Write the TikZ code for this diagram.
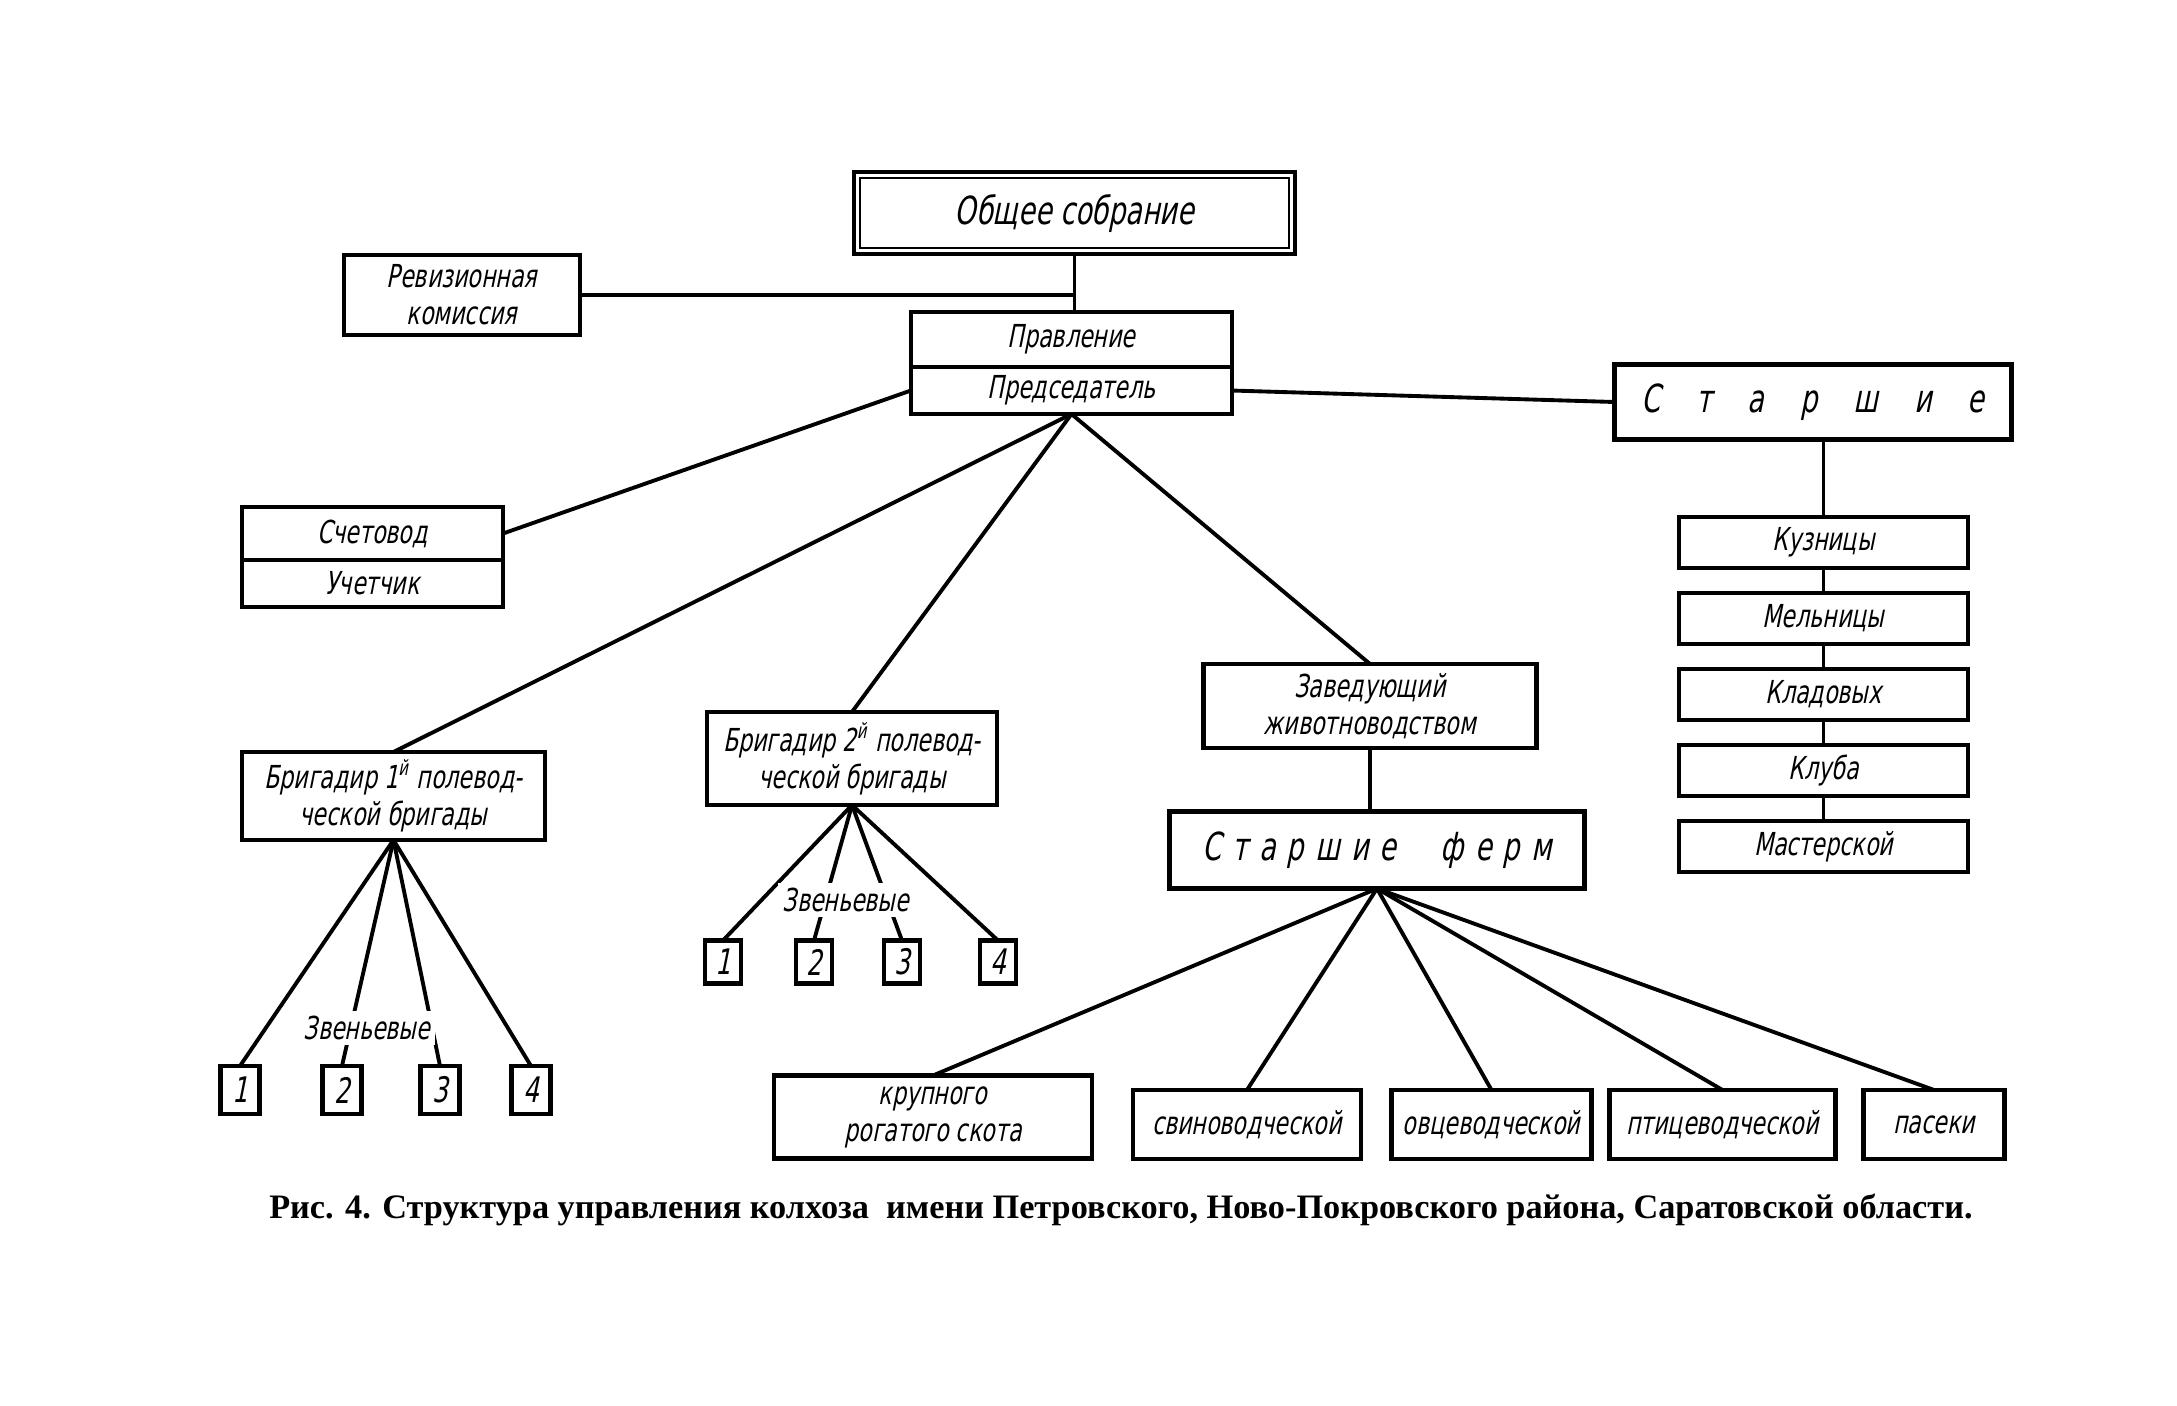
\documentclass[tikz,border=0pt]{standalone}
\usepackage{fontspec}
\setmainfont{Liberation Serif}
\newfontfamily\boxfont[FakeStretch=0.70,FakeSlant=0.2]{DejaVu Sans}
\usetikzlibrary{positioning}

\begin{document}
\begin{tikzpicture}[
    x=0.01cm, y=-0.01cm,
    unit/.style={rectangle, draw, line width=1.3pt, inner sep=1pt, outer sep=0pt,
                 align=center, font=\boxfont\fontsize{9}{10.5}\selectfont},
    big/.style={unit, font=\boxfont\fontsize{11}{13}\selectfont},
    numbox/.style={unit, font=\boxfont\fontsize{10}{12}\selectfont},
    wh/.style 2 args={minimum width=#1cm, minimum height=#2cm},
    link/.style={line width=1.1pt},
    lbl/.style={fill=white, inner sep=1.5pt, font=\boxfont\fontsize{9}{10}\selectfont},
]
\useasboundingbox (0,0) rectangle (2177,1406);

% board and management
\node[big, wh={4.41}{0.82}] (obsh) at (1074.5,213) {Общее собрание};
\draw[line width=0.5pt] ([xshift=0.06cm,yshift=-0.06cm]obsh.north west)
    rectangle ([xshift=-0.06cm,yshift=0.06cm]obsh.south east);
\node[unit, wh={2.36}{0.80}] (rev) at (462,295) {Ревизионная\\комиссия};
\node[unit, wh={3.21}{0.55}] (prav) at (1071.5,339.5) {Правление};
\node[unit, wh={3.21}{0.47}, below=0pt of prav] (pred) {Председатель};
\node[unit, wh={2.61}{0.53}] (schet) at (372.5,533.5) {Счетовод};
\node[unit, wh={2.61}{0.47}, below=0pt of schet] (uchet) {Учетчик};

% seniors column on the right
\node[big, wh={3.97}{0.75}] (star) at (1813,402) {\makebox[3.43cm][s]{С т а р ш и е}};
\node[unit, wh={2.89}{0.51}] (kuz) at (1823.5,542.5) {Кузницы};
\node[unit, wh={2.89}{0.51}, below=0.25cm of kuz] (mel) {Мельницы};
\node[unit, wh={2.89}{0.51}, below=0.25cm of mel] (klad) {Кладовых};
\node[unit, wh={2.89}{0.51}, below=0.25cm of klad] (klub) {Клуба};
\node[unit, wh={2.89}{0.51}, below=0.25cm of klub] (mast) {Мастерской};

% brigades
\node[unit, wh={3.03}{0.88}] (brig1) at (393.5,796)
     {Бригадир 1\textsuperscript{й} полевод-\\ческой бригады};
\node[unit, wh={2.90}{0.93}] (brig2) at (852,758.5)
     {Бригадир 2\textsuperscript{й} полевод-\\ческой бригады};
\foreach \n/\x in {1/240,2/342,3/440,4/531}
  \node[numbox, wh={0.39}{0.48}] (b1\n) at (\x,1090) {\n};
\foreach \n/\x in {1/723,2/814,3/902,4/998}
  \node[numbox, wh={0.36}{0.43}] (b2\n) at (\x,962) {\n};

% livestock
\node[unit, wh={3.33}{0.84}] (zav) at (1370,706) {Заведующий\\животноводством};
\node[big, wh={4.15}{0.77}] (stferm) at (1377,850)
     {\makebox[3.49cm][s]{С т а р ш и е\ \ \ \ ф е р м}};
\node[unit, wh={3.18}{0.83}] (krup) at (933,1117) {крупного\\рогатого скота};
\node[unit, wh={2.28}{0.69}] (svin) at (1247,1124.5) {свиноводческой};
\node[unit, wh={2.00}{0.69}] (ovc) at (1491.5,1124.5) {овцеводческой};
\node[unit, wh={2.26}{0.69}] (ptic) at (1722.5,1124.5) {птицеводческой};
\node[unit, wh={1.41}{0.69}] (pas) at (1934,1124.5) {пасеки};

\draw[link] (obsh.south) -- (obsh.south |- prav.north);
\draw[link] (rev.east) -- (rev.east -| obsh.south);
\draw[link] (pred.east) -- (star.west);
\draw[link] (pred.west) -- (schet.east);
\foreach \t in {brig1,brig2,zav}
  \draw[link] (pred.south) -- (\t.north);
\draw[link] (star.south -| kuz.north) -- (kuz.north);
\foreach \a/\b in {kuz/mel,mel/klad,klad/klub,klub/mast}
  \draw[link] (\a) -- (\b);
\draw[link] (zav.south) -- (zav.south |- stferm.north);
\foreach \t in {krup,svin,ovc,ptic,pas}
  \draw[link] (stferm.south) -- (\t.north);
\foreach \n in {1,...,4} {
  \draw[link] (brig1.south) -- (b1\n.north);
  \draw[link] (brig2.south) -- (b2\n.north);
}

% labels sit on top of the links
\node[lbl] (zv1) at (367,1028) {Звеньевые};
\node[lbl] (zv2) at (846,900) {Звеньевые};

\node[font=\bfseries\fontsize{9.75}{11}\selectfont, anchor=base] (cap) at (1121,1218)
     {Рис. 4. Структура управления колхоза\ \ имени Петровского, Ново-Покровского района, Саратовской области.};
\end{tikzpicture}
\end{document}
